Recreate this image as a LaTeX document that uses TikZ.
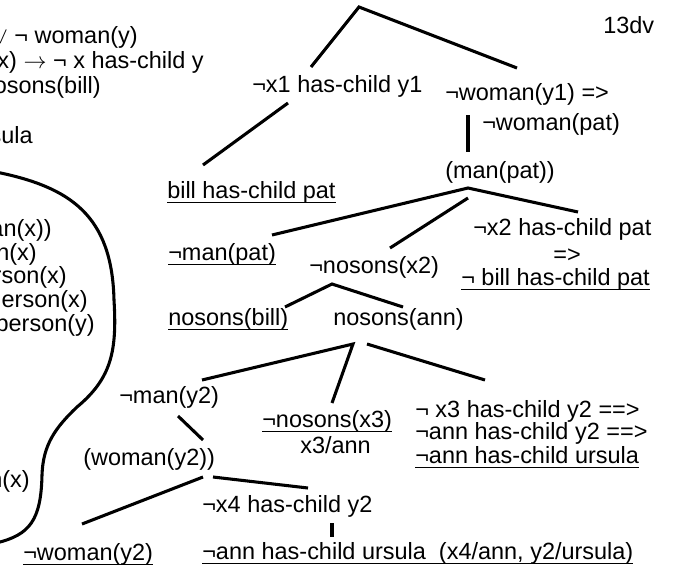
\documentclass[tikz,border=0pt]{standalone}
\usepackage{fontspec}
\setmainfont{Liberation Sans}
\newcommand{\ulin}[1]{\leavevmode\setbox0=\hbox{#1}\rlap{\rule[-4pt]{\wd0}{1.1pt}}\box0}

\begin{document}
\begin{tikzpicture}[x=0.75pt,y=0.75pt,yscale=-1,xscale=1,
  txt/.style={anchor=base west,inner sep=0pt,font=\fontsize{17.6}{17.6}\selectfont},
  edge/.style={line width=2.3pt}]
\useasboundingbox (0,0) rectangle (684,568);
\clip (0,0) rectangle (684,568);

% Text Node (premises, cut at the left edge)
\draw (138,43) node [txt,anchor=base east] (p1) {$\vee$ ¬ woman(y)};
\draw (204,68) node [txt,anchor=base east] (p2) {x) $\rightarrow$ ¬ x has-child y};
\draw (101,93) node [txt,anchor=base east] (p3) {osons(bill)};
\draw (33,143) node [txt,anchor=base east] (p4) {sula};
% Text Node (inside the curve)
\draw (52,236) node [txt,anchor=base east] (k1) {an(x))};
\draw (37,260) node [txt,anchor=base east] (k2) {n(x)};
\draw (67,283) node [txt,anchor=base east] (k3) {rson(x)};
\draw (88,307) node [txt,anchor=base east] (k4) {erson(x)};
\draw (95,331) node [txt,anchor=base east] (k5) {person(y)};
\draw (30,487) node [txt,anchor=base east] (k6) {n(x)};

%Curve
\draw [line width=2.3pt] (-4,172) .. controls (70,187) and (112,215) .. (114,300) .. controls (117,350) and (112,378) .. (77,407) .. controls (55,428) and (43,445) .. (42,475) .. controls (41,520) and (30,535) .. (-4,543) ;

% Text Node
\draw (603,33) node [txt] (dv) {13dv};
% Text Node
\draw (252,92) node [txt] (x1) {¬x1 has-child y1};
% Text Node
\draw (445,100) node [txt] (w1) {¬woman(y1) =>};
% Text Node
\draw (482,130) node [txt] (wp) {¬woman(pat)};
% Text Node
\draw (445,178) node [txt] (mp) {(man(pat))};
% Text Node
\draw (167,198) node [txt] (bhp) {\ulin{bill has-child pat}};
% Text Node
\draw (168,260) node [txt] (nmp) {\ulin{¬man(pat)}};
% Text Node
\draw (309,273) node [txt] (nx2) {¬nosons(x2)};
% Text Node
\draw (473,235) node [txt] (x2) {¬x2 has-child pat};
% Text Node
\draw (567,262) node [txt,anchor=base] (impl) {=>};
% Text Node
\draw (461,285) node [txt] (nbhp) {\ulin{¬ bill has-child pat}};
% Text Node
\draw (168,325) node [txt] (nb) {\ulin{nosons(bill)}};
% Text Node
\draw (333,325) node [txt] (na) {nosons(ann)};
% Text Node
\draw (119,403) node [txt] (my2) {¬man(y2)};
% Text Node
\draw (83,465) node [txt] (wy2) {(woman(y2))};
% Text Node
\draw (23,560) node [txt] (nwy2) {\ulin{¬woman(y2)}};
% Text Node
\draw (262,427) node [txt] (nx3) {\ulin{¬nosons(x3)}};
% Text Node
\draw (300,453) node [txt] (sub3) {x3/ann};
% Text Node
\draw (415,417) node [txt] (x3a) {¬ x3 has-child y2 ==>};
\draw (415,439) node [txt] (x3b) {¬ann has-child y2 ==>};
\draw (415,463) node [txt] (x3c) {\ulin{¬ann has-child ursula}};
% Text Node
\draw (202,512) node [txt] (x4) {¬x4 has-child y2};
% Text Node
\draw (202,559) node [txt] (x4u) {\ulin{¬ann has-child ursula\ \ (x4/ann, y2/ursula)}};

% branch points
\coordinate (root) at (359,7);
\coordinate (x1 top) at (311,67);
\coordinate (w1 top) at (517,68);
\coordinate (x1 foot) at (288,103);
\coordinate (bhp top) at (203,165);
\coordinate (w1 foot) at (468,115);
\coordinate (mp top) at (468,152);
\coordinate (mp foot) at (468,188);
\coordinate (mp foot2) at (468,198);
\coordinate (nmp top) at (272,235);
\coordinate (nx2 top) at (390,248);
\coordinate (x2 top) at (578,212);
\coordinate (nx2 foot) at (332,284);
\coordinate (nb top) at (285,307);
\coordinate (na top) at (403,307);
\coordinate (na foot) at (353,344);
\coordinate (na foot2) at (367,344);
\coordinate (my2 top) at (202,380);
\coordinate (nx3 top) at (332,403);
\coordinate (x3a top) at (485,380);
\coordinate (my2 foot) at (178,416);
\coordinate (wy2 top) at (203,440);
\coordinate (wy2 foot) at (203,477);
\coordinate (wy2 foot2) at (213,477);
\coordinate (nwy2 top) at (82,524);
\coordinate (x4 top) at (308,488);
\coordinate (x4 foot) at (332,523);
\coordinate (x4u top) at (332,537);

%Straight Lines
\draw [edge] (x1 top) -- (root) -- (w1 top) ;
\draw [edge] (x1 foot) -- (bhp top) ;
\draw [edge] (w1 foot) -- (mp top) ;
\draw [edge] (nmp top) -- (mp foot) -- (x2 top) ;
\draw [edge] (mp foot2) -- (nx2 top) ;
\draw [edge] (nb top) -- (nx2 foot) -- (na top) ;
\draw [edge] (my2 top) -- (na foot) -- (nx3 top) ;
\draw [edge] (na foot2) -- (x3a top) ;
\draw [edge] (my2 foot) -- (wy2 top) ;
\draw [edge] (nwy2 top) -- (wy2 foot) ;
\draw [edge] (wy2 foot2) -- (x4 top) ;
\draw [edge] (x4 foot) -- (x4u top) ;

\end{tikzpicture}
\end{document}
